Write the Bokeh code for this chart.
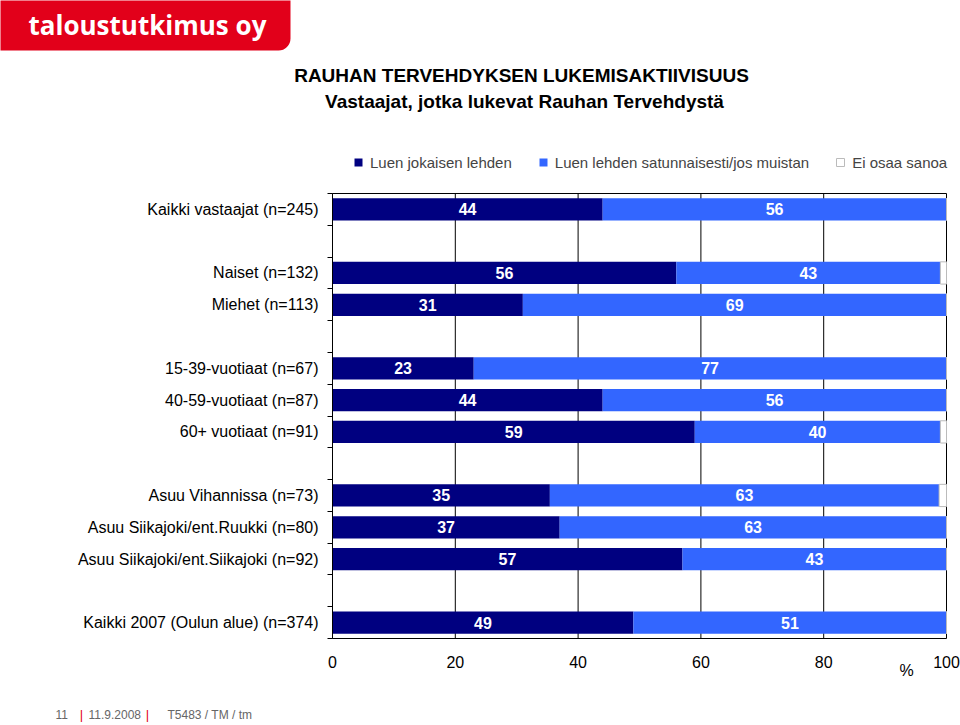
from bokeh.plotting import figure
from bokeh.models import (Range1d, FixedTicker, ColumnDataSource, Label, BoxAnnotation,
                          Legend, LegendItem)
from bokeh.core.properties import value
from bokeh.embed import file_html
from bokeh.resources import INLINE

# ---------------- data ----------------
categories = [
    "Kaikki vastaajat (n=245)",
    "Naiset (n=132)",
    "Miehet (n=113)",
    "15-39-vuotiaat (n=67)",
    "40-59-vuotiaat (n=87)",
    "60+ vuotiaat (n=91)",
    "Asuu Vihannissa (n=73)",
    "Asuu Siikajoki/ent.Ruukki (n=80)",
    "Asuu Siikajoki/ent.Siikajoki (n=92)",
    "Kaikki 2007 (Oulun alue) (n=374)",
]
slots = [0, 2, 3, 5, 6, 7, 9, 10, 11, 13]   # row slot (empty rows between groups)
n_slots = 14
luen_jokaisen = [44, 56, 31, 23, 44, 59, 35.4, 37, 57, 49]
luen_satunnaisesti = [56, 43, 69, 77, 56, 40, 63.4, 63, 43, 51]
series_names = ["Luen jokaisen lehden", "Luen lehden satunnaisesti/jos muistan", "Ei osaa sanoa"]
x_ticks = [0, 20, 40, 60, 80, 100]
title_1 = "RAUHAN TERVEHDYKSEN LUKEMISAKTIIVISUUS"
title_2 = "Vastaajat, jotka lukevat Rauhan Tervehdystä"
footer = ["11", "11.9.2008", "T5483 / TM / tm"]

ei_osaa = [round(100 - a - b, 1) for a, b in zip(luen_jokaisen, luen_satunnaisesti)]

DARK = "#000080"
BLUE = "#3366FF"
RED = "#E2001A"
FONT = "Liberation Sans"
W, H = 960, 725

# page layout: the value axis runs from px 332 (0 %) to px 946 (100 %),
# the rows from px 193 (top) to px 638 (bottom)
X0, X1, Y0, Y1 = 332, 946, 193, 638
PX_PER_X = (X1 - X0) / 100.0
PX_PER_ROW = (Y1 - Y0) / n_slots


def dx(px):
    return (px - X0) / PX_PER_X


def dy(py):
    return (py - Y0) / PX_PER_ROW


p = figure(width=W, height=H, output_backend="svg", toolbar_location=None,
           x_range=Range1d(dx(0), dx(W)), y_range=Range1d(dy(H), dy(0)),
           min_border_left=0, min_border_right=0, min_border_top=0, min_border_bottom=0)
p.title.visible = False
p.outline_line_color = None
p.grid.visible = False
p.background_fill_color = "white"
p.border_fill_color = "white"

# grid lines and frame of the plot area
n_t = len(x_ticks)
p.segment(x0=x_ticks, y0=[0] * n_t, x1=x_ticks, y1=[n_slots] * n_t,
          line_color="black", line_width=1)
p.segment(x0=[x_ticks[0]], y0=[0], x1=[x_ticks[-1]], y1=[0], line_color="black", line_width=1)

centers = [s + 0.5 for s in slots]
right_1 = luen_jokaisen
right_2 = [a + b for a, b in zip(luen_jokaisen, luen_satunnaisesti)]
src = ColumnDataSource(dict(
    y=centers,
    a0=[0] * len(centers), a1=right_1, b1=right_2,
    c1=[r + c for r, c in zip(right_2, ei_osaa)],
    am=[v / 2 for v in luen_jokaisen],
    bm=[l + v / 2 for l, v in zip(right_1, luen_satunnaisesti)],
    at=[str(int(round(v))) for v in luen_jokaisen],
    bt=[str(int(round(v))) for v in luen_satunnaisesti],
))

r1 = p.hbar(y="y", left="a0", right="a1", height=0.7, source=src, fill_color=DARK, line_color=None)
r2 = p.hbar(y="y", left="a1", right="b1", height=0.7, source=src, fill_color=BLUE, line_color=None)
r3 = p.hbar(y="y", left="b1", right="c1", height=0.7, source=src, fill_color="white",
            line_color="#BBBBBB", line_width=1)

for xcol, tcol in (("am", "at"), ("bm", "bt")):
    p.text(x=xcol, y="y", text=tcol, source=src, text_color="white",
           text_font=value(FONT), text_font_style="bold", text_font_size="16px",
           text_align="center", text_baseline="middle")

# x axis at the bottom of the rows
xa = p.xaxis[0]
xa.fixed_location = n_slots
xa.bounds = (0, 100)
xa.ticker = FixedTicker(ticks=x_ticks)
xa.major_tick_out = 0
xa.major_tick_in = 0
xa.minor_tick_out = 0
xa.minor_tick_in = 0
xa.axis_line_color = "black"
xa.major_label_standoff = 17
xa.major_label_text_font = FONT
xa.major_label_text_font_size = "16px"
xa.major_label_text_color = "black"

# y axis: category labels at row centres, tick marks at row boundaries
ya = p.yaxis[0]
ya.fixed_location = 0
ya.bounds = (0, n_slots)
ya.ticker = FixedTicker(ticks=centers, minor_ticks=list(range(0, n_slots + 1)))
ya.major_label_overrides = {c: lab for c, lab in zip(centers, categories)}
ya.major_tick_out = 0
ya.major_tick_in = 0
ya.minor_tick_out = 5
ya.minor_tick_in = 0
ya.minor_tick_line_color = "black"
ya.axis_line_color = "black"
ya.major_label_standoff = 9
ya.major_label_text_font = FONT
ya.major_label_text_font_size = "16px"
ya.major_label_text_color = "black"

# legend
legend = Legend(items=[LegendItem(label=series_names[0], renderers=[r1]),
                       LegendItem(label=series_names[1], renderers=[r2]),
                       LegendItem(label=series_names[2], renderers=[r3])],
                orientation="horizontal", location=(353, H - 170.5),
                glyph_width=10, glyph_height=10, label_standoff=7, spacing=26,
                padding=0, margin=0, border_line_color=None, background_fill_alpha=0,
                label_text_font=FONT, label_text_font_size="15px", label_height=17)
p.add_layout(legend, "center")


def add_label(text, X, Y, size, align="left", bold=False, color="black", font=FONT):
    p.add_layout(Label(x=dx(X), y=dy(Y), text=text, text_font=font, text_font_size=size,
                       text_font_style="bold" if bold else "normal", text_color=color,
                       text_align=align, text_baseline="middle"))


add_label("%", 906, 670, "16px", align="center")

# logo
box_kw = dict(left=dx(-20), right=dx(290), top=dy(-20), bottom=dy(50),
              fill_color=RED, fill_alpha=1, line_color=None)
if "border_radius" in BoxAnnotation.properties():
    box_kw["border_radius"] = 12
p.add_layout(BoxAnnotation(**box_kw))
add_label("taloustutkimus oy", 28, 24, "26px", bold=True, color="white", font="Open Sans")

# titles
add_label(title_1, 521, 75, "19px", align="center", bold=True)
add_label(title_2, 524, 101, "19px", align="center", bold=True)

# footer
add_label(footer[0], 55, 714, "12px", color="#666666")
add_label("|", 81, 714, "13px", color=RED, align="center")
add_label(footer[1], 88, 714, "12px", color="#666666")
add_label("|", 147, 714, "13px", color=RED, align="center")
add_label(footer[2], 167, 714, "12px", color="#666666")

open("out.html", "w").write(file_html(p, INLINE))
